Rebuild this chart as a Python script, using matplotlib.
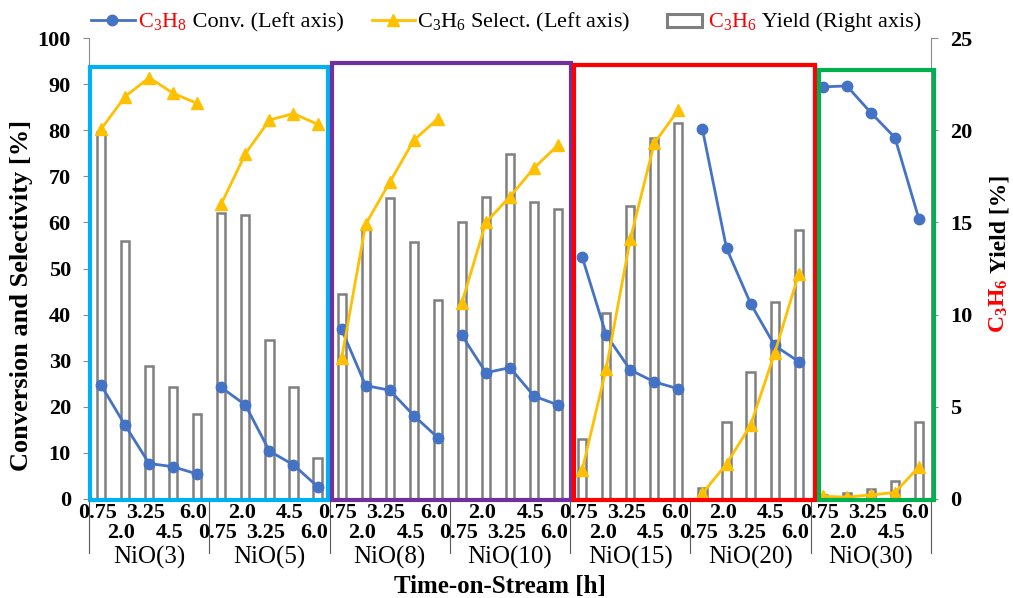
import numpy as np
import matplotlib
matplotlib.use("Agg")
import matplotlib.pyplot as plt
import matplotlib.transforms as mtransforms
from matplotlib.patches import Rectangle
from matplotlib.lines import Line2D

plt.rcParams['font.family'] = ['Liberation Serif', 'DejaVu Serif']
plt.rcParams['mathtext.default'] = 'regular'

# datos
times = ["0.75", "2.0", "3.25", "4.5", "6.0"]
catalysts = ["NiO(3)", "NiO(5)", "NiO(8)", "NiO(10)", "NiO(15)", "NiO(20)", "NiO(30)"]

# conversion de C3H8 (%), eje izquierdo
conv = [[24.7, 16.0, 7.7, 7.0, 5.4],
        [24.2, 20.4, 10.4, 7.4, 2.7],
        [36.8, 24.6, 23.6, 18.1, 13.3],
        [35.5, 27.4, 28.5, 22.3, 20.4],
        [52.5, 35.6, 28.0, 25.4, 23.9],
        [80.2, 54.4, 42.4, 33.3, 29.8],
        [89.4, 89.6, 83.8, 78.4, 60.7]]

# selectividad a C3H6 (%), eje izquierdo
sel = [[80.2, 87.3, 91.4, 88.0, 85.8],
       [64.0, 74.9, 82.2, 83.6, 81.3],
       [30.5, 59.6, 68.7, 77.8, 82.5],
       [42.6, 60.0, 65.6, 71.8, 76.8],
       [6.3, 28.3, 56.4, 77.2, 84.4],
       [1.2, 7.6, 16.0, 31.6, 48.8],
       [0.6, 0.4, 0.9, 1.4, 7.0]]

# rendimiento a C3H6 (%), eje derecho
yld = [[19.9, 14.0, 7.2, 6.1, 4.6],
       [15.5, 15.4, 8.6, 6.1, 2.2],
       [11.1, 14.7, 16.3, 13.95, 10.8],
       [15.0, 16.4, 18.7, 16.1, 15.7],
       [3.25, 10.1, 15.9, 19.6, 20.4],
       [0.6, 4.2, 6.9, 10.7, 14.6],
       [0.2, 0.3, 0.55, 0.95, 4.2]]

W, H = 1013, 598
fig = plt.figure(figsize=(W / 100, H / 100), dpi=100)

def fx(px):
    return px / W

def fy(py):
    return 1 - py / H

# area del grafico en pixeles
L, R, T, B = 89, 931, 38, 499
ax1 = fig.add_axes([fx(L), fy(B), (R - L) / W, (B - T) / H])
ax2 = ax1.twinx()
ax1.set_zorder(ax2.get_zorder() + 1)
ax1.patch.set_visible(False)

n_t = len(times)
n = n_t * len(catalysts)
x = np.arange(n)

# barras de rendimiento
ax2.bar(x, np.concatenate(yld), width=0.34, facecolor='white',
        edgecolor='#7f7f7f', linewidth=1.8)

# lineas por catalizador
for g in range(len(catalysts)):
    xs = x[g * n_t:(g + 1) * n_t]
    ax1.plot(xs, conv[g], color='#4472C4', lw=2, marker='o', ms=7.5, zorder=3)
    ax1.plot(xs, sel[g], color='#FFC000', lw=2, marker='^', ms=8.5, zorder=3)

ax1.set_xlim(-0.5, n - 0.5)
ax1.set_ylim(0, 100)
ax2.set_ylim(0, 25)
ax1.set_yticks(range(0, 101, 10))
ax2.set_yticks(range(0, 26, 5))
ax1.set_xticks([])

spine_col = '#8c8c8c'
for a in (ax1, ax2):
    a.spines['top'].set_visible(False)
    for s in ('left', 'right', 'bottom'):
        a.spines[s].set_color(spine_col)
ax1.spines['right'].set_visible(False)
ax2.spines['left'].set_visible(False)

ax1.tick_params(axis='y', labelsize=16, direction='out', length=4, color=spine_col, pad=9)
ax2.tick_params(axis='y', labelsize=16, direction='out', length=5, color=spine_col, pad=9)
for lab in ax1.get_yticklabels() + ax2.get_yticklabels():
    lab.set_fontweight('bold')

# etiquetas del eje x en dos filas
trans = mtransforms.blended_transform_factory(ax1.transData, fig.transFigure)
for i in range(n):
    ypx = 513 if i % 2 == 0 else 533
    ax1.text(i - 0.15, fy(ypx), times[i % n_t], transform=trans, ha='center', va='center',
             fontsize=16, fontweight='bold', clip_on=False)
for g, name in enumerate(catalysts):
    ax1.text(g * n_t + 2, fy(557), name, transform=trans, ha='center', va='center',
             fontsize=18, clip_on=False)
for g in range(len(catalysts) + 1):
    xb = g * n_t - 0.5
    ax1.add_line(Line2D([xb, xb], [fy(B), fy(553)], transform=trans, color='#595959',
                        lw=0.8, clip_on=False))

# recuadros de colores
boxes = [(-0.45, 9.45, 93.7, '#00B0F0'),
         (9.62, 19.52, 94.6, '#7030A0'),
         (19.66, 29.68, 94.1, '#FF0000'),
         (29.83, 34.62, 93.1, '#00B050')]
for x0, x1, top, col in boxes:
    ax1.add_patch(Rectangle((x0, -0.2), x1 - x0, top + 0.2, fill=False, edgecolor=col,
                            lw=3, clip_on=False, zorder=5))

# leyenda manual
fig.add_artist(Line2D([fx(91), fx(135)], [fy(20), fy(20)], color='#4472C4', lw=2))
fig.add_artist(Line2D([fx(112)], [fy(20)], color='#4472C4', marker='o', ms=7.5))
fig.add_artist(Line2D([fx(372), fx(415)], [fy(20), fy(20)], color='#FFC000', lw=2))
fig.add_artist(Line2D([fx(393)], [fy(20)], color='#FFC000', marker='^', ms=8.5))
fig.add_artist(Rectangle((fx(667), fy(27)), fx(702) - fx(667), fy(14) - fy(27),
                         transform=fig.transFigure, facecolor='white',
                         edgecolor='#7f7f7f', lw=2.2))

renderer = fig.canvas.get_renderer()

def two_color(xp, yp, head, tail, rotation=0, **kw):
    # primera parte en rojo, el resto en negro a continuacion
    t1 = fig.text(fx(xp), fy(yp), head, color='red', ha='left', va='baseline',
                  rotation=rotation, rotation_mode='anchor', **kw)
    bb = t1.get_window_extent(renderer=renderer)
    if rotation == 0:
        pos = (bb.x1 / W, fy(yp))
    else:
        pos = (fx(xp), bb.y1 / H)
    fig.text(pos[0], pos[1], tail, color='black', ha='left', va='baseline',
             rotation=rotation, rotation_mode='anchor', **kw)

two_color(138, 27, 'C$_3$H$_8$', ' Conv. (Left axis)', fontsize=16)
fig.text(fx(417), fy(27), 'C$_3$H$_6$ Select. (Left axis)', ha='left', va='baseline', fontsize=16)
two_color(708, 27, 'C$_3$H$_6$', ' Yield (Right axis)', fontsize=16)

# titulos de ejes
fig.text(fx(22), fy(295), 'Conversion and Selectivity [%]', rotation=90, ha='center',
         va='center', fontsize=19, fontweight='bold')
two_color(1005, 333, 'C$_3$H$_6$', ' Yield [%]', rotation=90, fontsize=17, fontweight='bold')
fig.text(fx(500), fy(593), 'Time-on-Stream [h]', ha='center', va='baseline',
         fontsize=18, fontweight='bold')

fig.savefig('out.png', dpi=100)
